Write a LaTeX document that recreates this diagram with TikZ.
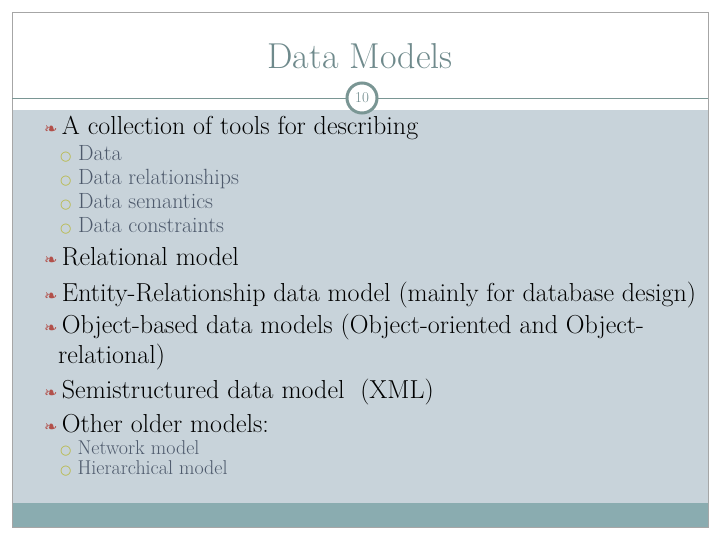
\documentclass[tikz,border=0pt]{standalone}
\usepackage{fontspec}
\newfontfamily\dingfont{DejaVu Sans}
\definecolor{bodygray}{HTML}{C8D3DA}
\definecolor{bandteal}{HTML}{8AACB0}
\definecolor{titleteal}{HTML}{6F8A8C}
\definecolor{ringteal}{HTML}{7A9694}
\definecolor{bulletred}{HTML}{B2504A}
\definecolor{subgray}{HTML}{4E5A6C}
\definecolor{subyellow}{HTML}{B8B840}
\newcommand{\mainbul}{{\dingfont\color{bulletred}\fontsize{16}{16}\selectfont ❧}}
\newcommand{\subbul}{{\dingfont\color{subyellow}\fontsize{13}{13}\selectfont ○}}
\begin{document}
\begin{tikzpicture}[x=1pt,y=-1pt]
\tikzstyle{main}=[anchor=base west, inner sep=0pt, font=\fontsize{26}{30}\selectfont]
\tikzstyle{sub}=[anchor=base west, inner sep=0pt, text=subgray, font=\fontsize{22}{26}\selectfont]
\tikzstyle{subsmall}=[sub, font=\fontsize{20}{22}\selectfont]
\useasboundingbox (0,0) rectangle (720,540);
\fill[white] (0,0) rectangle (720,540);
% slide frame
\fill[bodygray] (12,110) rectangle (708,503);
\fill[bandteal] (12,503) rectangle (708,527);
\draw[gray!70] (12,12) rectangle (708,527);
\draw[ringteal] (12,98) -- (708,98);
\node[circle, draw=ringteal, line width=3pt, fill=white, minimum size=30pt, inner sep=0pt, font=\fontsize{15}{15}\selectfont, text=titleteal] (num) at (362,98) {10};
\node[font=\fontsize{36}{40}\selectfont, text=titleteal] (title) at (360,56) {Data Models};
% items
\node[main] (m1) at (44,135) {\mainbul\,A collection of tools for describing};
\node[sub] (s1) at (60,161) {\subbul\ Data};
\node[sub] (s2) at (60,185) {\subbul\ Data relationships};
\node[sub] (s3) at (60,209) {\subbul\ Data semantics};
\node[sub] (s4) at (60,233) {\subbul\ Data constraints};
\node[main] (m2) at (44,265) {\mainbul\,Relational model};
\node[main] (m3) at (44,301) {\mainbul\,Entity-Relationship data model (mainly for database design)};
\node[main] (m4) at (44,333) {\mainbul\,Object-based data models (Object-oriented and Object-};
\node[main] (m4b) at (58,363) {relational)};
\node[main] (m5) at (44,398) {\mainbul\,Semistructured data model\ \ (XML)};
\node[main] (m6) at (44,432) {\mainbul\,Other older models:};
\node[subsmall] (s5) at (60,454) {\subbul\ Network model};
\node[subsmall] (s6) at (60,474) {\subbul\ Hierarchical model};
\end{tikzpicture}
\end{document}
